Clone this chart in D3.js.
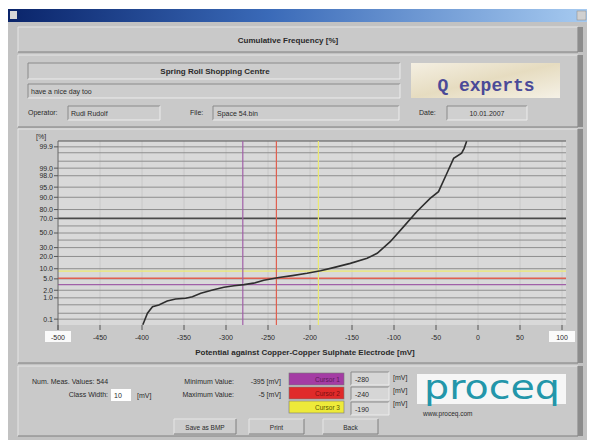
<!DOCTYPE html>
<html>
<head>
<meta charset="utf-8">
<script src="https://cdnjs.cloudflare.com/ajax/libs/d3/7.8.5/d3.min.js"></script>
<title>Cumulative Frequency</title>
<style>
  body { margin: 0; background: #fff; }
  svg text { font-family: Arial, "Liberation Sans", sans-serif; fill: #2a2a2a; }
</style>
</head>
<body>
<script>
// values
var potential = [-399, -393.5, -387.5, -380, -370, -360, -348, -340, -330, -316, -302.5, -290.5,
                 -278.5, -267, -255, -237, -221, -203.5, -187.5, -172, -152, -132, -120, -104.5,
                 -88.5, -73, -57, -47, -37, -29, -19.5, -16.5, -13.5];
var cumFreq = [0.05, 0.2, 0.41, 0.49, 0.73, 0.89, 0.96, 1.12, 1.53, 2.05, 2.57, 2.94,
               3.2, 3.6, 4.5, 5.5, 6.3, 7.4, 8.8, 10.7, 13.8, 18.2, 23.3, 37.8,
               59, 77.7, 89.3, 93.1, 98.4, 99.63, 99.79, 99.88, 99.95];

var xTicks = [-500, -450, -400, -350, -300, -250, -200, -150, -100, -50, 0, 50, 100];
var yTicks = [0.1, 1.0, 2.0, 5.0, 10.0, 20.0, 30.0, 50.0, 70.0, 80.0, 90.0, 95.0, 98.0, 99.0, 99.9];
var gridLevels = [0.1, 0.2, 0.5, 1, 2, 5, 10, 20, 30, 40, 50, 60, 70, 80, 90, 95, 98, 99, 99.5, 99.8, 99.9];

var cursorNames = ["Cursor 1", "Cursor 2", "Cursor 3"];
var cursorPot = [-280, -240, -190];
var cursorFreq = [3.2, 5.2, 8.6];
var cursorColors = ["#a43ca4", "#e02a2a", "#eeea3a"];
var cursorLineColors = ["#a060a8", "#e06050", "#ecea70"];
var cursorTextColors = ["#5a1a5a", "#7a1010", "#5a5a00"];

var headerTitle = "Cumulative Frequency [%]";
var siteName = "Spring Roll Shopping Centre";
var comment = "have a nice day too";
var operatorName = "Rudi Rudolf";
var fileName = "Space 54.bin";
var dateText = "10.01.2007";
var numValues = 544, classWidth = 10, minValue = -395, maxValue = -5;

// inverse of the normal cdf (probability paper axis)
function probit(p) {
  var a = [-3.969683028665376e+01, 2.209460984245205e+02, -2.759285104469687e+02, 1.383577518672690e+02, -3.066479806614716e+01, 2.506628277459239e+00];
  var b = [-5.447609879822406e+01, 1.615858368580409e+02, -1.556989798598866e+02, 6.680131188771972e+01, -1.328068155288572e+01];
  var c = [-7.784894002430293e-03, -3.223964580411365e-01, -2.400758277161838e+00, -2.549671635584219e+00, 4.374664141464968e+00, 2.938163982698783e+00];
  var d = [7.784695709041462e-03, 3.224671290700398e-01, 2.445134137142996e+00, 3.754408661907416e+00];
  var q, r;
  if (p < 0.02425) {
    q = Math.sqrt(-2 * Math.log(p));
    return (((((c[0]*q+c[1])*q+c[2])*q+c[3])*q+c[4])*q+c[5]) / ((((d[0]*q+d[1])*q+d[2])*q+d[3])*q+1);
  }
  if (p > 1 - 0.02425) {
    q = Math.sqrt(-2 * Math.log(1 - p));
    return -(((((c[0]*q+c[1])*q+c[2])*q+c[3])*q+c[4])*q+c[5]) / ((((d[0]*q+d[1])*q+d[2])*q+d[3])*q+1);
  }
  q = p - 0.5; r = q * q;
  return (((((a[0]*r+a[1])*r+a[2])*r+a[3])*r+a[4])*r+a[5])*q / (((((b[0]*r+b[1])*r+b[2])*r+b[3])*r+b[4])*r+1);
}

var svg = d3.select("body").append("svg")
    .attr("width", 592)
    .attr("height", 440);

var defs = svg.append("defs");
var tg = defs.append("linearGradient").attr("id", "titlebar");
tg.append("stop").attr("offset", "0%").attr("stop-color", "#0a246a");
tg.append("stop").attr("offset", "45%").attr("stop-color", "#3a6ab8");
tg.append("stop").attr("offset", "100%").attr("stop-color", "#a6caf0");
var qg = defs.append("linearGradient").attr("id", "qexp").attr("x2", "1").attr("y2", "1");
qg.append("stop").attr("offset", "0%").attr("stop-color", "#f4efe2");
qg.append("stop").attr("offset", "50%").attr("stop-color", "#e6dcc0");
qg.append("stop").attr("offset", "100%").attr("stop-color", "#f5f1e6");

// window
svg.append("rect").attr("x", 8).attr("y", 9).attr("width", 579).attr("height", 431).attr("fill", "#c2c2c2");
svg.append("rect").attr("x", 8).attr("y", 9).attr("width", 579).attr("height", 13).attr("fill", "url(#titlebar)");
svg.append("rect").attr("x", 10).attr("y", 11).attr("width", 7).attr("height", 8).attr("fill", "#d8d8d8");
svg.append("rect").attr("x", 577).attr("y", 11).attr("width", 9).attr("height", 9).attr("fill", "#d0d0d0").attr("stroke", "#888").attr("stroke-width", 0.5);

function panel(x0, y0, w, h, fill, sunken) {
  var g = svg.append("g");
  g.append("rect").attr("x", x0).attr("y", y0).attr("width", w).attr("height", h).attr("fill", fill);
  var lite = sunken ? "#8a8a8a" : "#e6e6e6", dark = sunken ? "#ececec" : "#7e7e7e";
  g.append("path").attr("d", "M" + x0 + "," + (y0 + h) + "V" + y0 + "H" + (x0 + w))
    .attr("fill", "none").attr("stroke", lite).attr("stroke-width", 1);
  g.append("path").attr("d", "M" + x0 + "," + (y0 + h) + "H" + (x0 + w) + "V" + y0)
    .attr("fill", "none").attr("stroke", dark).attr("stroke-width", 1);
  return g;
}
function label(x0, y0, str, opts) {
  opts = opts || {};
  return svg.append("text").attr("x", x0).attr("y", y0).text(str)
    .attr("font-size", opts.size || 7)
    .attr("font-weight", opts.bold ? "bold" : null)
    .attr("text-anchor", opts.anchor || "start")
    .style("fill", opts.fill || null);
}

// panels
[[27, 25], [55, 72], [129, 234], [366, 70]].forEach(function(p) {
  panel(18, p[0], 560, p[1], "#c9c9c9", false);
  svg.append("rect").attr("x", 578).attr("y", p[0]).attr("width", 5).attr("height", p[1]).attr("fill", "#8c8c8c");
});

label(288, 43, headerTitle, {size: 8, bold: true, anchor: "middle"});

// info panel
panel(28, 63, 372, 16, "#cdcdcd", true);
label(215, 74, siteName, {size: 8, bold: true, anchor: "middle"});
panel(28, 84, 372, 14, "#cdcdcd", true);
label(31, 94, comment);
label(28, 115, "Operator:");
panel(68, 106, 92, 14, "#cdcdcd", true);
label(71, 116, operatorName);
label(190, 115, "File:");
panel(213, 106, 186, 14, "#cdcdcd", true);
label(217, 116, fileName);
label(419, 115, "Date:");
panel(447, 106, 80, 14, "#d0d0d0", true);
label(487, 116, dateText, {anchor: "middle"});
svg.append("rect").attr("x", 411).attr("y", 63).attr("width", 149).attr("height", 35).attr("fill", "url(#qexp)");
svg.append("text").attr("x", 486).attr("y", 91).text("Q experts")
  .attr("text-anchor", "middle").attr("font-size", 18).attr("font-weight", "bold")
  .style("font-family", "'Liberation Mono', 'DejaVu Sans Mono', monospace").style("fill", "#4a4a98");

// graph
var x = d3.scaleLinear().domain([-500, 100]).range([58, 562]);
var zScale = d3.scaleLinear().domain([-3.3, 3.3]).range([325, 141]);
function y(v) { return zScale(probit(v / 100)); }
var plotL = 58, plotR = 566, plotT = 141, plotB = 325;

svg.append("rect").attr("x", plotL).attr("y", plotT).attr("width", plotR - plotL).attr("height", plotB - plotT).attr("fill", "#d9d9d9");

svg.append("g").selectAll("line").data(xTicks).enter().append("line")
  .attr("x1", function(d) { return x(d); }).attr("x2", function(d) { return x(d); })
  .attr("y1", plotT).attr("y2", plotB)
  .attr("stroke", "#c4c4c4").attr("stroke-width", 0.8);

svg.append("g").selectAll("line").data(gridLevels).enter().append("line")
  .attr("x1", plotL).attr("x2", plotR)
  .attr("y1", function(d) { return y(d); }).attr("y2", function(d) { return y(d); })
  .attr("stroke", function(d) { return d === 70 ? "#4a4a4a" : "#8e8e8e"; })
  .attr("stroke-width", function(d) { return d === 70 ? 1.6 : 1; });

svg.append("line").attr("x1", plotL).attr("x2", plotR).attr("y1", plotT).attr("y2", plotT)
  .attr("stroke", "#555").attr("stroke-width", 1.2);

// cursors
svg.append("g").selectAll("line").data(cursorFreq).enter().append("line")
  .attr("x1", plotL).attr("x2", plotR)
  .attr("y1", function(d) { return y(d); }).attr("y2", function(d) { return y(d); })
  .attr("stroke", function(d, i) { return cursorLineColors[i]; }).attr("stroke-width", 1.4);
svg.append("g").selectAll("line").data(cursorPot).enter().append("line")
  .attr("x1", function(d) { return x(d); }).attr("x2", function(d) { return x(d); })
  .attr("y1", plotT).attr("y2", plotB)
  .attr("stroke", function(d, i) { return cursorLineColors[i]; }).attr("stroke-width", 1.2);

var line = d3.line()
  .x(function(d, i) { return x(potential[i]); })
  .y(function(d) { return y(d); });
svg.append("path").datum(cumFreq).attr("d", line)
  .attr("fill", "none").attr("stroke", "#2e2e2e").attr("stroke-width", 1.6);

// y axis
svg.append("line").attr("x1", plotL).attr("x2", plotL).attr("y1", plotT).attr("y2", plotB + 5)
  .attr("stroke", "#6a6a6a");
var yAx = svg.append("g").selectAll("g").data(yTicks).enter().append("g");
yAx.append("line").attr("x1", plotL - 4).attr("x2", plotL)
  .attr("y1", function(d) { return y(d); }).attr("y2", function(d) { return y(d); }).attr("stroke", "#555");
yAx.append("text").attr("x", plotL - 5).attr("y", function(d) { return y(d); }).attr("dy", "0.35em")
  .attr("text-anchor", "end").attr("font-size", 7).text(function(d) { return d.toFixed(1); });
label(36, 139, "[%]");

// x axis
var xAx = svg.append("g").selectAll("g").data(xTicks).enter().append("g");
xAx.append("line").attr("x1", function(d) { return x(d); }).attr("x2", function(d) { return x(d); })
  .attr("y1", plotB).attr("y2", plotB + 5).attr("stroke", "#555");
xAx.filter(function(d, i) { return i === 0 || i === xTicks.length - 1; }).append("rect")
  .attr("x", function(d) { return x(d) - 13; }).attr("y", 331).attr("width", 26).attr("height", 11)
  .attr("fill", "#fafafa");
xAx.append("text").attr("x", function(d) { return x(d); }).attr("y", 339.5)
  .attr("text-anchor", "middle").attr("font-size", 7).text(function(d) { return d; });
label(305, 355, "Potential against Copper-Copper Sulphate Electrode [mV]", {size: 8, bold: true, anchor: "middle"});

// bottom panel
label(32, 384, "Num. Meas. Values:   " + numValues);
label(108, 397, "Class Width:", {anchor: "end"});
svg.append("rect").attr("x", 111).attr("y", 389).attr("width", 20).attr("height", 12).attr("fill", "#fff");
label(114, 398, classWidth);
label(137, 398, "[mV]");
label(234, 384, "Minimum Value:", {anchor: "end"});
label(281, 384, minValue + " [mV]", {anchor: "end"});
label(234, 397, "Maximum Value:", {anchor: "end"});
label(281, 397, maxValue + " [mV]", {anchor: "end"});

var cur = svg.append("g").selectAll("g").data(cursorNames).enter().append("g");
cur.append("rect").attr("x", 289).attr("y", function(d, i) { return 373 + i * 14; })
  .attr("width", 55).attr("height", 12).attr("fill", function(d, i) { return cursorColors[i]; })
  .attr("stroke", "#777").attr("stroke-width", 0.6);
cur.append("text").attr("x", 340).attr("y", function(d, i) { return 381.5 + i * 14; })
  .attr("text-anchor", "end").attr("font-size", 6.5).style("fill", function(d, i) { return cursorTextColors[i]; })
  .text(function(d) { return d; });
cur.each(function(d, i) {
  panel(351, 372 + i * 15, 38, 13, "#d6d6d6", true);
  label(355, 381.5 + i * 15, cursorPot[i]);
  label(393, 380 + i * 13, "[mV]");
});

svg.append("rect").attr("x", 417).attr("y", 374).attr("width", 149).attr("height", 30).attr("fill", "#f6f6f6");
svg.append("text").attr("x", 424).attr("y", 399).text("proceq")
  .attr("font-size", 33).attr("textLength", 136).attr("lengthAdjust", "spacingAndGlyphs")
  .style("font-family", "'DejaVu Sans', sans-serif").style("fill", "#2396aa");
label(423, 416, "www.proceq.com", {size: 6.5});

[["Save as BMP", 174, 62], ["Print", 249, 55], ["Back", 323, 55]].forEach(function(b) {
  panel(b[1], 419, b[2], 15, "#cdcdcd", false);
  label(b[1] + b[2] / 2, 429.5, b[0], {size: 6.5, anchor: "middle"});
});
</script>
</body>
</html>
